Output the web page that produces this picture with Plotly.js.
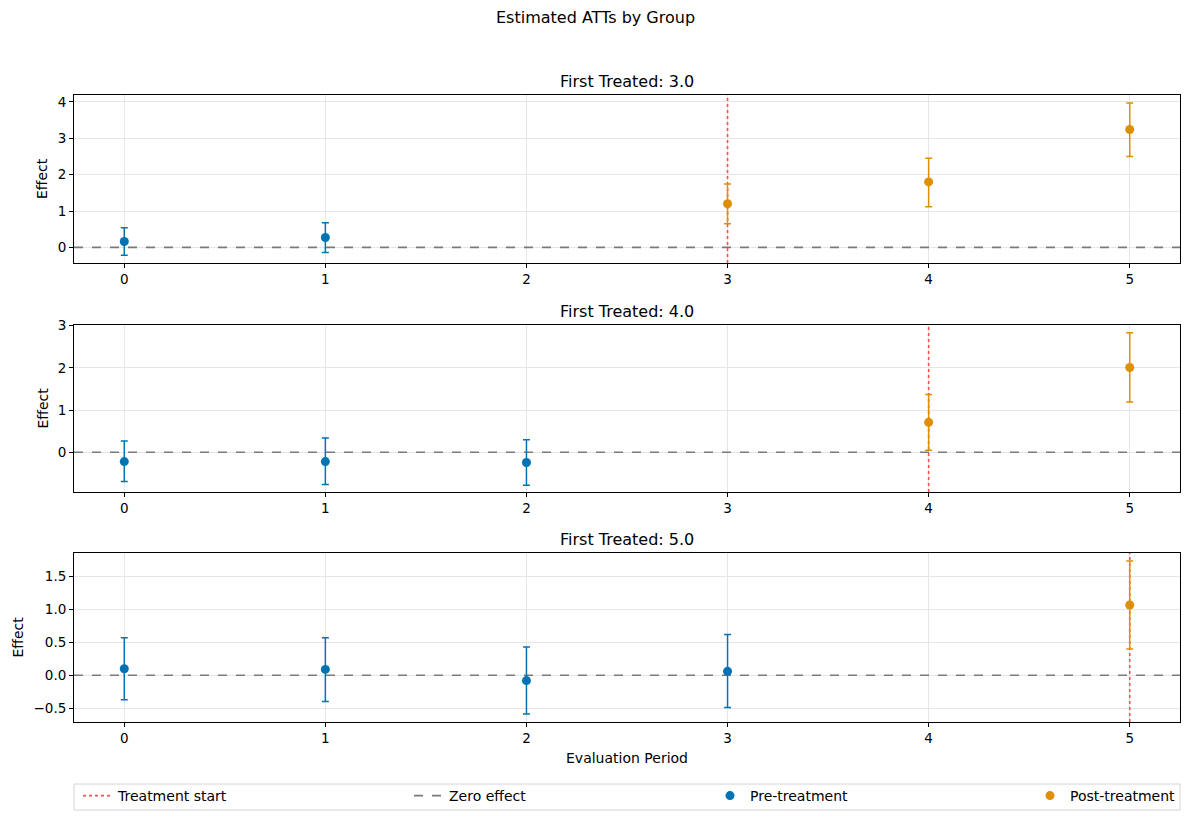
<!DOCTYPE html>
<html>
<head>
<meta charset="utf-8">
<script src="https://cdn.plot.ly/plotly-3.0.1.min.js"></script>
<style>html,body{margin:0;padding:0;background:#fff;}#chart{width:1190px;height:821px;}</style>
</head>
<body>
<div id="chart"></div>
<script>
// ---- data ----
const groups = [3, 4, 5];
const g3Periods = [0, 1, 3, 4, 5];
const g3Att     = [0.16, 0.27, 1.20, 1.80, 3.24];
const g3Lower   = [-0.22, -0.14, 0.65, 1.12, 2.50];
const g3Upper   = [0.54, 0.68, 1.74, 2.45, 3.97];

const g4Periods = [0, 1, 2, 4, 5];
const g4Att     = [-0.22, -0.22, -0.24, 0.71, 2.01];
const g4Lower   = [-0.69, -0.76, -0.78, 0.05, 1.19];
const g4Upper   = [0.27, 0.34, 0.30, 1.37, 2.83];

const g5Periods = [0, 1, 2, 3, 5];
const g5Att     = [0.10, 0.09, -0.08, 0.06, 1.07];
const g5Lower   = [-0.37, -0.40, -0.59, -0.49, 0.40];
const g5Upper   = [0.57, 0.57, 0.43, 0.62, 1.74];

const xTicks = [0, 1, 2, 3, 4, 5];
const groupTitles = ['First Treated: 3.0', 'First Treated: 4.0', 'First Treated: 5.0'];

// ---- styling ----
const W = 1190, H = 821;
const PRE = '#0173b2', POST = '#de8f05';
const RED = '#ff4d4d', GRAY = '#7a7a7a';
const FONT = 'DejaVu Sans, sans-serif';
const xDom = [74 / W, 1180 / W];
const xRange = [-0.25, 5.25];
const panels = [
  {top: 95, bot: 263, range: [-0.43, 4.19], tickvals: [0, 1, 2, 3, 4], fmt: '', labelX: 42},
  {top: 325, bot: 492, range: [-0.94, 3.016], tickvals: [0, 1, 2, 3], fmt: '', labelX: 42},
  {top: 553, bot: 722, range: [-0.71, 1.86], tickvals: [-0.5, 0, 0.5, 1.0, 1.5], fmt: '.1f', labelX: 17}
];
const data = [
  {p: g3Periods, a: g3Att, lo: g3Lower, up: g3Upper},
  {p: g4Periods, a: g4Att, lo: g4Lower, up: g4Upper},
  {p: g5Periods, a: g5Att, lo: g5Lower, up: g5Upper}
];

const traces = [];
const shapes = [];
const annotations = [];
const layout = {
  width: W, height: H,
  margin: {l: 0, r: 0, t: 0, b: 0},
  paper_bgcolor: '#fff', plot_bgcolor: '#fff',
  font: {family: FONT, size: 14, color: '#000'},
  showlegend: true
};

groups.forEach((g, i) => {
  const sfx = i === 0 ? '' : String(i + 1);
  const d = data[i];
  const pn = panels[i];
  const xa = 'x' + sfx, ya = 'y' + sfx;

  // zero effect line (spans the x axis extent)
  traces.push({
    type: 'scatter', mode: 'lines', x: xRange, y: [0, 0], xaxis: xa, yaxis: ya,
    name: 'Zero effect', legend: 'legend2', showlegend: i === 0,
    line: {color: GRAY, width: 1.6, dash: 'dash'}, hoverinfo: 'skip', cliponaxis: true
  });
  // treatment start vertical line (spans the y axis extent)
  traces.push({
    type: 'scatter', mode: 'lines', x: [g, g], y: pn.range, xaxis: xa, yaxis: ya,
    name: 'Treatment start', legend: 'legend', showlegend: i === 0,
    line: {color: RED, width: 1.6, dash: 'dot'}, hoverinfo: 'skip', cliponaxis: true
  });

  function subset(pred) {
    const o = {x: [], y: [], plus: [], minus: []};
    d.p.forEach((t, k) => {
      if (pred(t)) {
        o.x.push(t); o.y.push(d.a[k]);
        o.plus.push(d.up[k] - d.a[k]); o.minus.push(d.a[k] - d.lo[k]);
      }
    });
    return o;
  }
  const pre = subset(t => t < g);
  const post = subset(t => t >= g);

  [[pre, PRE, 'Pre-treatment', 'legend3'], [post, POST, 'Post-treatment', 'legend4']].forEach(([s, c, nm, lg]) => {
    traces.push({
      type: 'scatter', mode: 'markers', x: s.x, y: s.y, xaxis: xa, yaxis: ya,
      name: nm, legend: lg, showlegend: i === 0,
      marker: {color: c, size: 9},
      error_y: {type: 'data', symmetric: false, array: s.plus, arrayminus: s.minus,
                color: c, thickness: 1.5, width: 3.5},
      hoverinfo: 'x+y'
    });
  });

  const yDom = [1 - pn.bot / H, 1 - pn.top / H];
  layout['xaxis' + sfx] = {
    domain: xDom, anchor: ya, range: xRange,
    tickvals: xTicks, ticktext: xTicks.map(String),
    showgrid: true, gridcolor: '#e6e6e6', gridwidth: 1,
    showline: true, linecolor: '#000', linewidth: 1, mirror: true,
    ticks: 'outside', ticklen: 4, tickwidth: 1, tickcolor: '#000',
    zeroline: false, tickfont: {size: 13.5, color: '#000'}
  };
  layout['yaxis' + sfx] = {
    domain: yDom, anchor: xa, range: pn.range,
    tickvals: pn.tickvals, tickformat: pn.fmt,
    showgrid: true, gridcolor: '#e6e6e6', gridwidth: 1,
    showline: true, linecolor: '#000', linewidth: 1, mirror: true,
    ticks: 'outside', ticklen: 4, tickwidth: 1, tickcolor: '#000',
    zeroline: false, tickfont: {size: 13.5, color: '#000'}
  };

  annotations.push({
    text: groupTitles[i], xref: 'paper', yref: 'paper',
    x: (xDom[0] + xDom[1]) / 2, y: yDom[1], xanchor: 'center', yanchor: 'bottom',
    yshift: 2, showarrow: false, font: {size: 16, color: '#000'}
  });
  annotations.push({
    text: 'Effect', xref: 'paper', yref: 'paper', textangle: -90,
    x: pn.labelX / W, y: (yDom[0] + yDom[1]) / 2, xanchor: 'center', yanchor: 'middle',
    showarrow: false, font: {size: 14, color: '#000'}
  });
});

annotations.push({
  text: 'Estimated ATTs by Group', xref: 'paper', yref: 'paper',
  x: 0.5, y: 1 - 18 / H, xanchor: 'center', yanchor: 'middle',
  showarrow: false, font: {size: 16, color: '#000'}
});
annotations.push({
  text: 'Evaluation Period', xref: 'paper', yref: 'paper',
  x: (xDom[0] + xDom[1]) / 2, y: 1 - 758 / H, xanchor: 'center', yanchor: 'middle',
  showarrow: false, font: {size: 14, color: '#000'}
});

// legend frame
shapes.push({
  type: 'rect', xref: 'paper', yref: 'paper',
  x0: 74 / W, x1: 1180 / W, y0: 1 - 810 / H, y1: 1 - 784 / H,
  line: {color: '#d4d4d4', width: 1}, fillcolor: 'rgba(0,0,0,0)', layer: 'above'
});

const legBase = {orientation: 'h', yanchor: 'middle', xanchor: 'left', y: 1 - 796 / H,
  bgcolor: 'rgba(0,0,0,0)', borderwidth: 0, font: {size: 14, color: '#000'}, itemwidth: 30};
layout.legend  = Object.assign({}, legBase, {x: 78 / W});
layout.legend2 = Object.assign({}, legBase, {x: 409 / W});
layout.legend3 = Object.assign({}, legBase, {x: 710 / W});
layout.legend4 = Object.assign({}, legBase, {x: 1030 / W});

layout.shapes = shapes;
layout.annotations = annotations;

Plotly.newPlot('chart', traces, layout, {displayModeBar: false, responsive: false});
</script>
</body>
</html>
